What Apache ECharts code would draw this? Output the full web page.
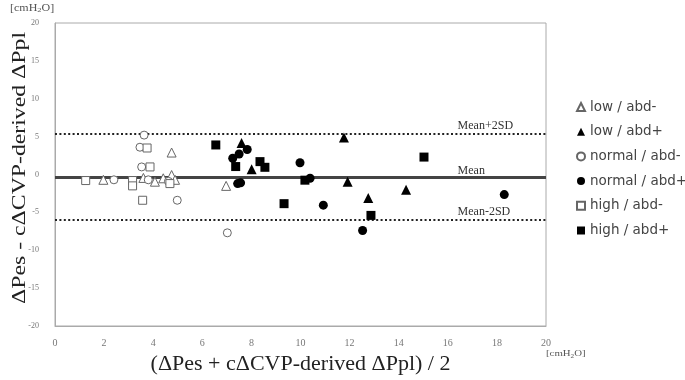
<!DOCTYPE html>
<html>
<head>
<meta charset="utf-8">
<script src="https://cdn.jsdelivr.net/npm/echarts@6/dist/echarts.min.js"></script>
<style>html,body{margin:0;padding:0;background:#fff}#c{width:685px;height:380px}</style>
</head>
<body>
<div id="c"></div>
<script>
// ---- data ----
const seriesNames = ['low / abd-', 'low / abd+', 'normal / abd-', 'normal / abd+', 'high / abd-', 'high / abd+'];
const lowAbdMinus = [[4.75,2.9],[1.97,-0.7],[3.6,-0.45],[4.41,-0.5],[4.75,-0.07],[4.89,-0.7],[4.07,-0.95],[6.97,-1.5]];
const lowAbdPlus = [[7.6,4.15],[8.01,0.7],[11.77,4.9],[11.92,-0.95],[12.76,-3.1],[14.3,-2.0]];
const normalAbdMinus = [[3.63,5.2],[3.46,3.6],[3.53,1.0],[2.4,-0.7],[3.8,-0.7],[4.62,-0.9],[4.98,-3.4],[7.02,-7.7]];
const normalAbdPlus = [[7.83,3.3],[7.5,2.7],[7.24,2.15],[7.44,-1.2],[7.56,-1.1],[9.98,1.55],[10.39,-0.5],[10.93,-4.05],[12.53,-7.4],[18.3,-2.65]];
const highAbdMinus = [[1.25,-0.8],[3.75,3.5],[3.87,1.0],[3.16,-0.8],[3.16,-1.5],[3.57,-3.4],[4.68,-1.2]];
const highAbdPlus = [[6.55,3.9],[7.36,1.05],[8.35,1.7],[8.55,0.95],[10.18,-0.75],[9.33,-3.85],[12.87,-5.4],[15.03,2.3]];
const refValues = [5.4, -0.3, -6.0];
const refLabels = ['Mean+2SD', 'Mean', 'Mean-2SD'];
const refLabelX = 16.4;
const xTicks = {min: 0, max: 20, interval: 2};
const yTicks = {min: -20, max: 20, interval: 5};
const xTitle = '(ΔPes + cΔCVP-derived ΔPpl) / 2';
const yTitle = 'ΔPes - cΔCVP-derived ΔPpl';

// ---- chart ----
const serif = 'Liberation Serif';
const chart = echarts.init(document.getElementById('c'), null, {renderer: 'canvas'});
const hollow = {color: '#fff', borderColor: '#666', borderWidth: 1, opacity: 1};
const filled = {color: '#000', opacity: 1};
const defs = [
  {data: lowAbdMinus, symbol: 'triangle', size: 9, style: hollow},
  {data: lowAbdPlus, symbol: 'triangle', size: 10, style: filled},
  {data: normalAbdMinus, symbol: 'circle', size: 8, style: hollow},
  {data: normalAbdPlus, symbol: 'circle', size: 9, style: filled},
  {data: highAbdMinus, symbol: 'rect', size: 8, style: hollow},
  {data: highAbdPlus, symbol: 'rect', size: 9, style: filled}
];
const series = defs.map((d, i) => ({
  name: seriesNames[i], type: 'scatter', data: d.data, symbol: d.symbol,
  symbolSize: d.size, itemStyle: d.style, z: 5
}));
series.push({
  name: 'ref', type: 'scatter', data: [], z: 3,
  markLine: {
    silent: true, symbol: 'none', animation: false,
    label: {show: false},
    data: refValues.map((v, i) => ({
      yAxis: v,
      lineStyle: i === 1 ? {color: '#444', width: 3, type: 'solid'} : {color: '#222', width: 2, type: [2, 2.4]}
    }))
  },
  markPoint: {
    silent: true, animation: false,
    data: refValues.map((v, i) => ({
      coord: [refLabelX, v], symbol: 'rect', symbolSize: 0,
      label: {show: true, formatter: refLabels[i], position: [0, i === 1 ? 0 : -2],
        align: 'left', verticalAlign: 'bottom', fontFamily: serif, fontSize: 12, color: '#333'}
    }))
  }
});

chart.setOption({
  animation: false,
  grid: {left: 55, right: 139, top: 23, bottom: 54, show: true, borderColor: '#aaa', borderWidth: 1},
  xAxis: {
    type: 'value', min: xTicks.min, max: xTicks.max, interval: xTicks.interval,
    axisLine: {show: true, onZero: false, lineStyle: {color: '#aaa'}}, axisTick: {show: false}, splitLine: {show: false},
    axisLabel: {fontFamily: serif, fontSize: 10, color: '#777', margin: 12},
    name: xTitle, nameLocation: 'middle', nameGap: 26,
    nameTextStyle: {fontFamily: serif, fontSize: 22, color: '#222'}
  },
  yAxis: {
    type: 'value', min: yTicks.min, max: yTicks.max, interval: yTicks.interval,
    axisLine: {show: true, onZero: false, lineStyle: {color: '#aaa'}}, axisTick: {show: false}, splitLine: {show: false},
    axisLabel: {fontFamily: serif, fontSize: 8, color: '#777', margin: 16}
  },
  legend: {
    orient: 'vertical', left: 571, top: 95, itemGap: 10.7, itemWidth: 8, itemHeight: 8,
    data: seriesNames,
    textStyle: {fontFamily: 'DejaVu Sans', fontSize: 13.5, color: '#444', lineHeight: 14}
  },
  graphic: [
    {type: 'text', x: 20, y: 168, rotation: Math.PI / 2, scaleX: 1.25,
      style: {text: yTitle, font: '19px "Liberation Serif"', fill: '#222', align: 'center', verticalAlign: 'middle'}},
    {type: 'text', x: 10, y: 8, scaleX: 1.2,
      style: {text: '{a|[cmH}{s|2}{a|O]}', align: 'left', verticalAlign: 'middle',
        rich: {a: {font: '10px "Liberation Serif"', fill: '#555'}, s: {font: '7px "Liberation Serif"', fill: '#555', padding: [5, 0, 0, 0]}}}},
    {type: 'text', x: 546, y: 354, scaleX: 1.2,
      style: {text: '{a|[cmH}{s|2}{a|O]}', align: 'left', verticalAlign: 'middle',
        rich: {a: {font: '9px "Liberation Serif"', fill: '#555'}, s: {font: '6px "Liberation Serif"', fill: '#555', padding: [5, 0, 0, 0]}}}}
  ],
  series: series
});
</script>
</body>
</html>
